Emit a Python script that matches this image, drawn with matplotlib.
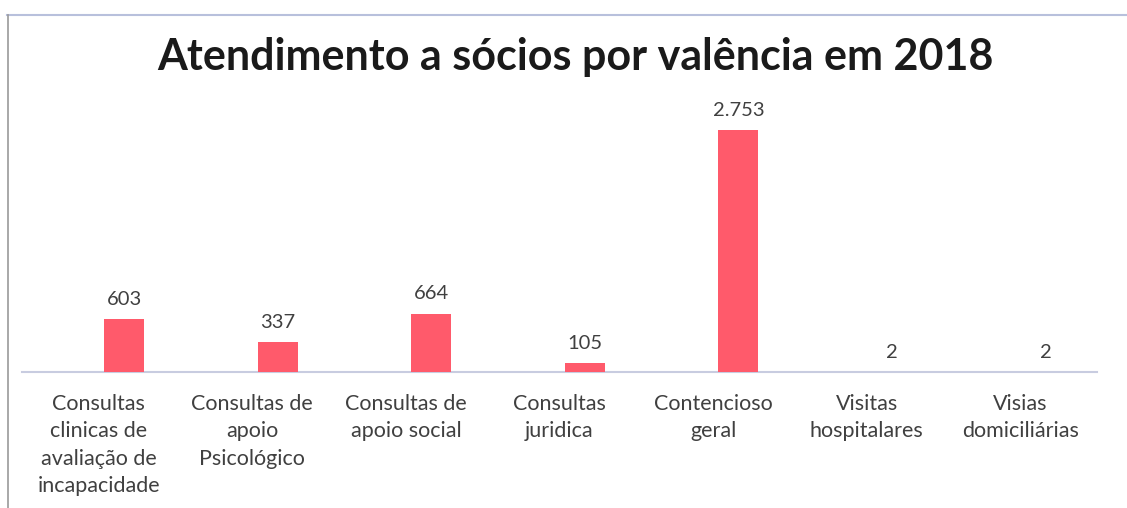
import matplotlib
matplotlib.use("Agg")
import matplotlib.pyplot as plt
from matplotlib.lines import Line2D

categories = [
    "Consultas\nclinicas de\navaliação de\nincapacidade",
    "Consultas de\napoio\nPsicológico",
    "Consultas de\napoio social",
    "Consultas\njuridica",
    "Contencioso\ngeral",
    "Visitas\nhospitalares",
    "Visias\ndomiciliárias",
]
values = [603, 337, 664, 105, 2753, 2, 2]
title = "Atendimento a sócios por valência em 2018"

bar_color = "#FF5A6B"
text_color = "#404040"

fig = plt.figure(figsize=(11.27, 5.08), dpi=100)
fig.patch.set_facecolor("white")
ax = fig.add_axes([22 / 1127, (508 - 372) / 508, 1075 / 1127, (372 - 108) / 508])

x = list(range(len(categories)))
offset = 0.165
bx = [i + offset for i in x]
ax.bar(bx, values, width=0.26, color=bar_color, zorder=3)

for xi, v in zip(bx, values):
    lab = f"{v:,}".replace(",", ".")
    ax.annotate(lab, (xi, v), xytext=(0, 8), textcoords="offset points",
                ha="center", va="bottom", fontsize=14.5, color=text_color,
                family="Lato")

ax.set_xlim(-0.5, 6.5)
ax.set_ylim(0, 3000)
ax.set_xticks(x)
ax.set_xticklabels(categories, fontsize=15.5, color=text_color, family="Lato",
                   linespacing=1.45, va="top")
ax.tick_params(axis="x", length=0, pad=16)
ax.set_yticks([])
for s in ["top", "right", "left"]:
    ax.spines[s].set_visible(False)
ax.spines["bottom"].set_color("#C8CCE0")
ax.spines["bottom"].set_linewidth(1.5)
ax.set_facecolor("none")

fig.text(575 / 1127, 1 - 57 / 508, title, ha="center", va="center",
         fontsize=31, fontweight="bold", color="#1a1a1a", family="Lato")

# outer frame (scanned border)
fig.add_artist(Line2D([0.006, 1.0], [1 - 15 / 508, 1 - 15 / 508],
                      transform=fig.transFigure, color="#B8C0DC", lw=1.5))
fig.add_artist(Line2D([8 / 1127, 8 / 1127], [0, 1 - 15 / 508],
                      transform=fig.transFigure, color="#9A9A9A", lw=1.2))

fig.savefig("out.png", dpi=100, facecolor="white")
